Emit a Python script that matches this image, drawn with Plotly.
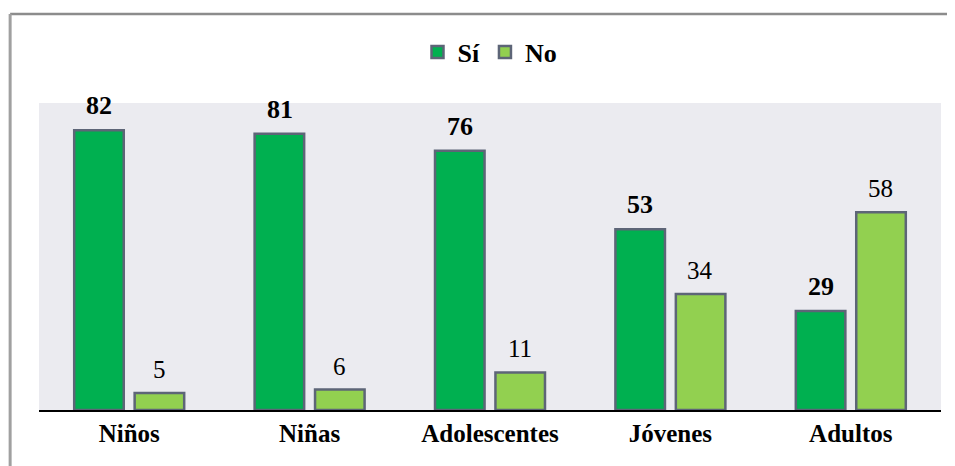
import plotly.graph_objects as go

CATEGORIES = ["Niños", "Niñas", "Adolescentes", "Jóvenes", "Adultos"]
SI_VALUES = [82, 81, 76, 53, 29]
NO_VALUES = [5, 6, 11, 34, 58]

SI_COLOR = "#00b050"
NO_COLOR = "#92d050"
OUTLINE = "#5d6577"
FONT = "Liberation Serif, Times New Roman, serif"
BG_PLOT = "#ebebf0"

fig = go.Figure()
fig.add_trace(
    go.Bar(
        x=CATEGORIES,
        y=SI_VALUES,
        name="Sí",
        marker=dict(color=SI_COLOR, line=dict(color=OUTLINE, width=2.5)),
    )
)
fig.add_trace(
    go.Bar(
        x=CATEGORIES,
        y=NO_VALUES,
        name="No",
        marker=dict(color=NO_COLOR, line=dict(color=OUTLINE, width=2.5)),
    )
)

# value labels, sitting a little higher above the bars than plotly's own outside text
for cat, si, no in zip(CATEGORIES, SI_VALUES, NO_VALUES):
    fig.add_annotation(
        x=cat, y=si, text=str(si), showarrow=False,
        xshift=-30, yshift=8, yanchor="bottom",
        font=dict(family=FONT, size=26, color="black", weight="bold"),
    )
    fig.add_annotation(
        x=cat, y=no, text=str(no), showarrow=False,
        xshift=30, yshift=8, yanchor="bottom",
        font=dict(family=FONT, size=25, color="black"),
    )

fig.update_xaxes(
    showline=True,
    linecolor="black",
    linewidth=2,
    showgrid=False,
    ticks="",
    tickfont=dict(family=FONT, size=25, color="black", weight="bold"),
)
fig.update_yaxes(
    range=[0, 90],
    visible=False,
    showgrid=False,
)

# figure frame (top and left edges)
fig.add_shape(type="line", xref="paper", yref="paper",
              x0=-0.032, x1=1.02, y0=1.29, y1=1.29,
              line=dict(color="#8c8c8c", width=2.5))
fig.add_shape(type="line", xref="paper", yref="paper",
              x0=-0.032, x1=-0.032, y0=-0.2, y1=1.29,
              line=dict(color="#a0a0a0", width=3))

# page body adds an 8px offset, so the figure is sized to compensate
fig.update_layout(
    width=947,
    height=458,
    margin=dict(l=31, r=14, t=95, b=56),
    plot_bgcolor=BG_PLOT,
    paper_bgcolor="white",
    font_family=FONT,
    barmode="group",
    bargap=0.33,
    bargroupgap=0.18,
    showlegend=True,
    legend=dict(
        orientation="h",
        x=0.5,
        xanchor="center",
        y=1.166,
        yanchor="middle",
        font=dict(family=FONT, size=26, color="black", weight="bold"),
        itemwidth=30,
        traceorder="normal",
    ),
)

fig.write_html("out.html")
